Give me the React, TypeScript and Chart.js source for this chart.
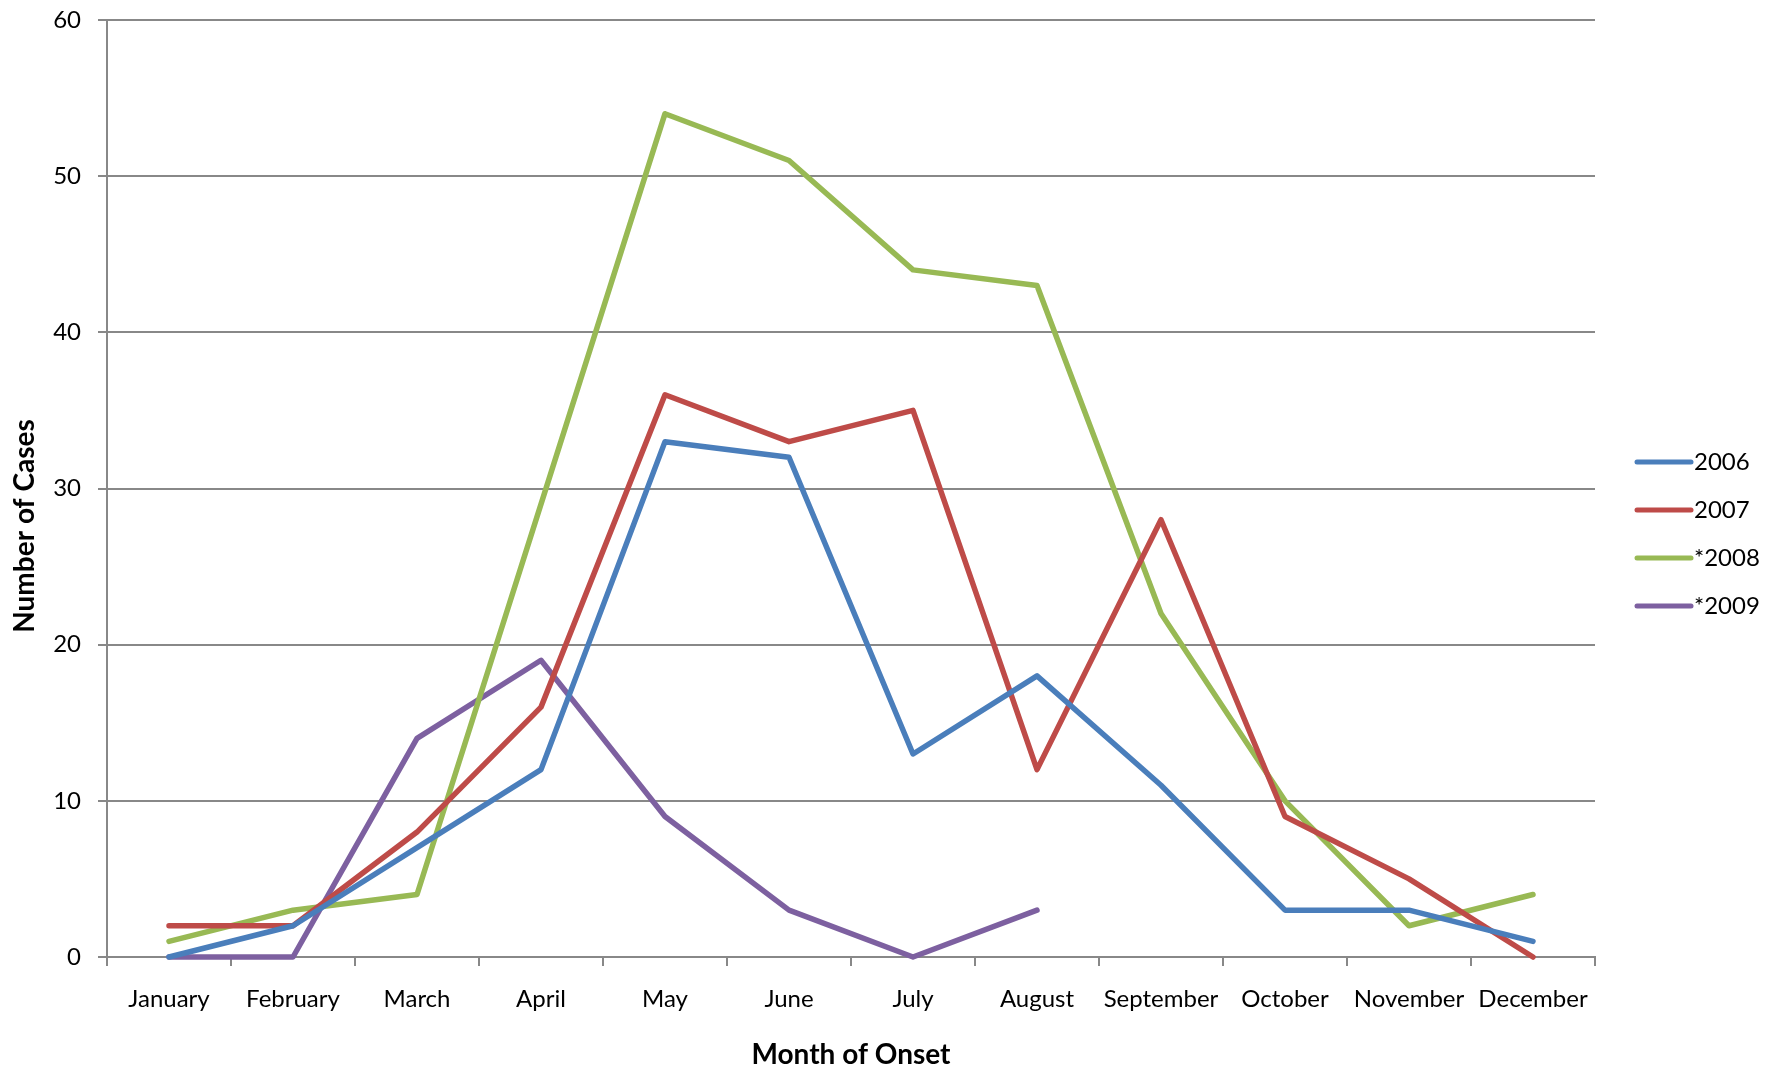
import React, { useEffect, useRef } from "react";
import { Chart, registerables } from "chart.js";

Chart.register(...registerables);

const months = ["January", "February", "March", "April", "May", "June", "July", "August", "September", "October", "November", "December"];
const seriesNames = ["2006", "2007", "*2008", "*2009"];
const values2006 = [0, 2, 7, 12, 33, 32, 13, 18, 11, 3, 3, 1];
const values2007 = [2, 2, 8, 16, 36, 33, 35, 12, 28, 9, 5, 0];
const values2008 = [1, 3, 4, 29, 54, 51, 44, 43, 22, 10, 2, 4];
const values2009 = [0, 0, 14, 19, 9, 3, 0, 3, null, null, null, null];
const colors = ["#4A7EBB", "#BE4B48", "#98B954", "#7D60A0"];
const yTicks = [0, 10, 20, 30, 40, 50, 60];

const FONT = "Lato, 'Open Sans', 'Liberation Sans', sans-serif";
const GRID = "#888888";

export default function App() {
  const ref = useRef<HTMLCanvasElement | null>(null);

  useEffect(() => {
    const canvas = ref.current;
    if (!canvas) return;
    const all = [values2006, values2007, values2008, values2009];

    const customPlugin = {
      id: "customLegendAndTitle",
      afterDraw(chart: any) {
        const ctx = chart.ctx;
        const area = chart.chartArea;
        ctx.save();
        const cy = chart.height / 2 - 2;
        chart.data.datasets.forEach((ds: any, i: number) => {
          const y = cy + (i - 1.5) * 48;
          const x0 = area.right + 42;
          const x1 = x0 + 54;
          ctx.strokeStyle = ds.borderColor;
          ctx.lineWidth = 5;
          ctx.lineCap = "round";
          ctx.beginPath();
          ctx.moveTo(x0, y);
          ctx.lineTo(x1, y);
          ctx.stroke();
          ctx.fillStyle = "#000";
          ctx.font = `24px ${FONT}`;
          ctx.textAlign = "left";
          ctx.textBaseline = "middle";
          ctx.fillText(ds.label, x1 + 3, y);
        });
        ctx.translate(25, chart.height / 2 - 10);
        ctx.rotate(-Math.PI / 2);
        ctx.font = `bold 28px ${FONT}`;
        ctx.textAlign = "center";
        ctx.textBaseline = "middle";
        ctx.fillStyle = "#000";
        ctx.fillText("Number of Cases", 0, 0);
        ctx.restore();
      },
    };

    const chart = new Chart(canvas, {
      type: "line",
      data: {
        labels: months,
        datasets: seriesNames.map((name, i) => ({
          label: name,
          data: all[i],
          borderColor: colors[i],
          backgroundColor: colors[i],
          borderWidth: 5.5,
          pointRadius: 0,
          tension: 0,
          spanGaps: false,
          borderJoinStyle: "round" as const,
          borderCapStyle: "round" as const,
          clip: false as any,
        })),
      },
      options: {
        responsive: false,
        animation: false,
        devicePixelRatio: 1,
        layout: { padding: { top: 20, right: 185, left: 0, bottom: 0 } },
        plugins: {
          legend: { display: false },
          tooltip: { enabled: false },
        },
        scales: {
          x: {
            type: "category",
            offset: true,
            grid: {
              offset: true,
              drawOnChartArea: false,
              drawTicks: true,
              tickLength: 9,
              color: GRID,
              lineWidth: 2,
            },
            border: { display: true, color: GRID, width: 2 },
            ticks: {
              color: "#000",
              font: { family: FONT, size: 24 },
              padding: 19,
              maxRotation: 0,
              autoSkip: false,
            },
            title: {
              display: true,
              text: "Month of Onset",
              color: "#000",
              font: { family: FONT, size: 28, weight: "bold" },
              padding: { top: 0, bottom: 0 },
            },
            afterFit(scale: any) {
              scale.height = 115;
              scale.paddingLeft = 0;
              scale.paddingRight = 0;
            },
          },
          y: {
            min: 0,
            max: 60,
            afterBuildTicks(scale: any) {
              scale.ticks = yTicks.map((v) => ({ value: v }));
            },
            grid: {
              color: GRID,
              lineWidth: 2,
              drawTicks: true,
              tickLength: 9,
            },
            border: { display: true, color: GRID, width: 2 },
            ticks: {
              color: "#000",
              font: { family: FONT, size: 24 },
              padding: 17,
            },
            afterFit(scale: any) {
              scale.width = 107;
              scale.paddingTop = 0;
              scale.paddingBottom = 0;
            },
          },
        },
      },
      plugins: [customPlugin],
    });

    return () => chart.destroy();
  }, []);

  return (
    <div style={{ position: "absolute", left: 0, top: 0, width: 1780, height: 1072, background: "#fff" }}>
      <canvas ref={ref} width={1780} height={1072} style={{ display: "block", width: 1780, height: 1072 }} />
    </div>
  );
}
